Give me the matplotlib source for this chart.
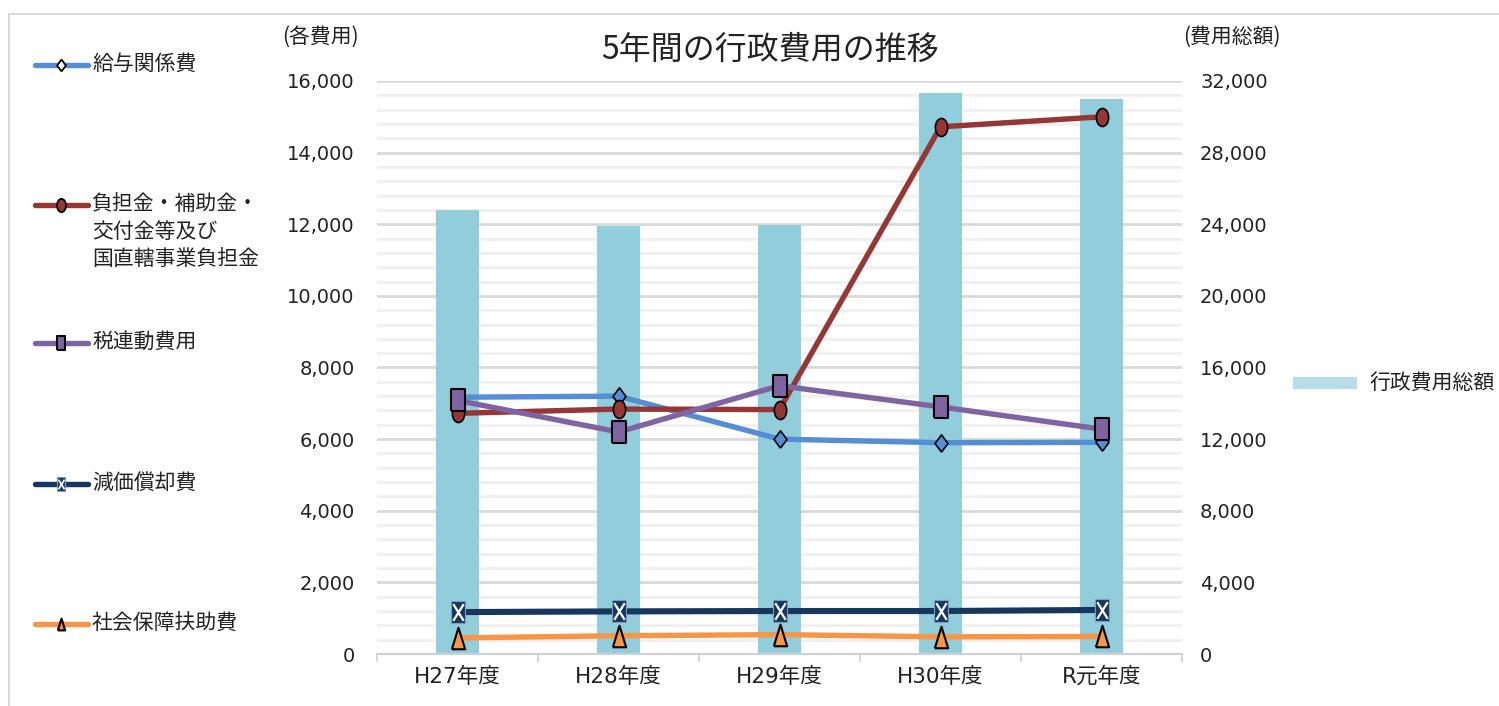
import matplotlib
matplotlib.use("Agg")
import matplotlib.pyplot as plt
import numpy as np
from matplotlib.path import Path
from matplotlib.lines import Line2D
from matplotlib.patches import Rectangle
from matplotlib.ticker import MultipleLocator, FuncFormatter

plt.rcParams['font.family'] = ['DejaVu Sans', 'Noto Sans CJK JP']

# ---- data ----
categories = ['H27年度', 'H28年度', 'H29年度', 'H30年度', 'R元年度']
total_cost = [24800, 23900, 23950, 31350, 31000]          # 行政費用総額 (right axis)
kyuyo = [7170, 7200, 6000, 5900, 5910]                    # 給与関係費
futan = [6720, 6840, 6825, 14720, 15000]                  # 負担金・補助金・交付金等及び国直轄事業負担金
zeirendo = [7080, 6200, 7490, 6900, 6280]                 # 税連動費用
genka = [1170, 1190, 1200, 1200, 1230]                    # 減価償却費
shakai = [450, 510, 540, 480, 490]                        # 社会保障扶助費

series_labels = ['給与関係費', '負担金・補助金・\n交付金等及び\n国直轄事業負担金',
                 '税連動費用', '減価償却費', '社会保障扶助費']
bar_label = '行政費用総額'
title = '5年間の行政費用の推移'
left_unit = '(各費用)'
right_unit = '(費用総額)'

W, H = 1499, 706
fig = plt.figure(figsize=(W / 100, H / 100), dpi=100)

def fx(x):
    return x / W

def fy(y):
    return 1 - y / H

CJK = ['Noto Sans CJK JP', 'DejaVu Sans']
TXT = '#222222'

# custom tall markers (reference is horizontally squeezed)
m_diamond = [(0, -1), (0.75, 0), (0, 1), (-0.75, 0), (0, -1)]
m_square = [(-0.62, -1), (0.62, -1), (0.62, 1), (-0.62, 1), (-0.62, -1)]
m_circle = Path.unit_circle().transformed(matplotlib.transforms.Affine2D().scale(0.68, 1.0))
m_tri = [(-0.62, -1), (0.62, -1), (0, 1), (-0.62, -1)]
m_x = Path([(-0.5, -0.8), (0.5, 0.8), (-0.5, 0.8), (0.5, -0.8)],
           [Path.MOVETO, Path.LINETO, Path.MOVETO, Path.LINETO])

bar_color = '#92CDDC'
colors = ['#558ED5', '#953735', '#8064A2', '#17375E', '#F79646']

rect = [fx(377), fy(654), fx(1182) - fx(377), fy(81) - fy(654)]
ax_bar = fig.add_axes(rect)
ax_line = ax_bar.twinx()

x = np.arange(len(categories))

# bars (right axis)
ax_bar.bar(x, total_cost, width=0.27, color=bar_color, zorder=2)
ax_bar.set_ylim(0, 32000)
ax_bar.set_xlim(-0.5, 4.5)
ax_bar.yaxis.set_major_locator(MultipleLocator(4000))
ax_bar.yaxis.set_minor_locator(MultipleLocator(800))
ax_bar.grid(which='minor', axis='y', color='#F0F0F0', lw=2.0, zorder=0)
ax_bar.grid(which='major', axis='y', color='#D9D9D9', lw=2.0, zorder=0)
ax_bar.set_axisbelow(True)
ax_bar.yaxis.tick_right()
ax_bar.yaxis.set_major_formatter(FuncFormatter(lambda v, p: f'{int(v):,}'))
ax_bar.tick_params(axis='y', which='both', length=0, pad=13, labelsize=14, labelcolor=TXT)
for s in ['top', 'left', 'right']:
    ax_bar.spines[s].set_visible(False)
ax_bar.spines['bottom'].set_color('#D0D0D0')
ax_bar.spines['bottom'].set_linewidth(1.5)
ax_bar.set_xticks(x)
ax_bar.set_xticklabels(categories)
ax_bar.set_xticks(np.arange(-0.5, 5.0, 1.0), minor=True)
ax_bar.tick_params(axis='x', which='major', length=0, pad=9, labelsize=15.5, labelcolor=TXT)
ax_bar.tick_params(axis='x', which='minor', length=6, width=1.2, color='#D0D0D0')

# lines (left axis)
ax_line.set_ylim(0, 16000)
ax_line.yaxis.set_major_locator(MultipleLocator(2000))
ax_line.yaxis.tick_left()
ax_line.yaxis.set_major_formatter(FuncFormatter(lambda v, p: f'{int(v):,}'))
ax_line.tick_params(axis='y', length=0, pad=16, labelsize=14, labelcolor=TXT)
for s in ['top', 'left', 'right', 'bottom']:
    ax_line.spines[s].set_visible(False)

lw = 3.9
ax_line.plot(x, kyuyo, color=colors[0], lw=lw, marker=m_diamond, ms=12.5,
             mfc=colors[0], mec='black', mew=1.2, solid_capstyle='round', zorder=3)
ax_line.plot(x, futan, color=colors[1], lw=lw, marker=m_circle, ms=13,
             mfc=colors[1], mec='black', mew=1.2, solid_capstyle='round', zorder=4)
ax_line.plot(x, zeirendo, color=colors[2], lw=lw, marker=m_square, ms=15.5,
             mfc=colors[2], mec='black', mew=1.5, solid_capstyle='round', zorder=5)
ax_line.plot(x, genka, color=colors[3], lw=4.4, marker=m_square, ms=15.5,
             mfc=colors[3], mec='#7F9BBE', mew=0.8, solid_capstyle='round', zorder=6)
ax_line.plot(x, genka, linestyle='none', marker=m_x, ms=12,
             mfc='none', mec='white', mew=1.6, zorder=7)
ax_line.plot(x, shakai, color=colors[4], lw=lw, marker=m_tri, ms=15.5,
             mfc=colors[4], mec='black', mew=1.5, solid_capstyle='round', zorder=8)

# titles & units
fig.text(fx(770), fy(50), title, ha='center', va='center', fontsize=23, color=TXT,
         family=CJK)
fig.text(fx(320), fy(37), left_unit, ha='center', va='center', fontsize=15, color=TXT,
         family=CJK)
fig.text(fx(1232), fy(37), right_unit, ha='center', va='center', fontsize=15, color=TXT,
         family=CJK)

# left legend (manual layout matching reference)
leg_y = [65, 205, 343, 484, 624]
leg_markers = [(m_diamond, 8.5, 'white', 'black', 1.3),
               (m_circle, 9.5, colors[1], 'black', 1.3),
               (m_square, 9.5, colors[2], 'black', 1.5),
               (m_square, 9.5, colors[3], '#7F9BBE', 0.8),
               (m_tri, 8.5, colors[4], 'black', 1.5)]
for i, yy in enumerate(leg_y):
    fig.add_artist(Line2D([fx(35), fx(88)], [fy(yy), fy(yy)], color=colors[i], lw=3.9,
                          solid_capstyle='round', transform=fig.transFigure))
    mk, ms, fc, ec, mw = leg_markers[i]
    fig.add_artist(Line2D([fx(61)], [fy(yy)], linestyle='none', marker=mk, ms=ms,
                          mfc=fc, mec=ec, mew=mw, transform=fig.transFigure))
    if i == 3:
        fig.add_artist(Line2D([fx(61)], [fy(yy)], linestyle='none', marker=m_x, ms=7,
                              mfc='none', mec='white', mew=1.2, transform=fig.transFigure))
    fig.text(fx(92), fy(yy - 12), series_labels[i], ha='left', va='top', fontsize=15,
             color=TXT, linespacing=1.33, family=CJK)

# right legend
fig.add_artist(Rectangle((fx(1293), fy(389)), fx(1357) - fx(1293), fy(377) - fy(389),
                         facecolor='#B7DEE8', edgecolor='none', transform=fig.transFigure))
fig.text(fx(1369), fy(383), bar_label, ha='left', va='center', fontsize=15, color=TXT,
         family=CJK)

# chart border
fig.add_artist(Line2D([fx(9), fx(9)], [fy(14), 0], color='#D9D9D9', lw=1.5, transform=fig.transFigure))
fig.add_artist(Line2D([fx(9), 1], [fy(14), fy(14)], color='#D9D9D9', lw=1.5, transform=fig.transFigure))

fig.savefig('out.png', dpi=100)
